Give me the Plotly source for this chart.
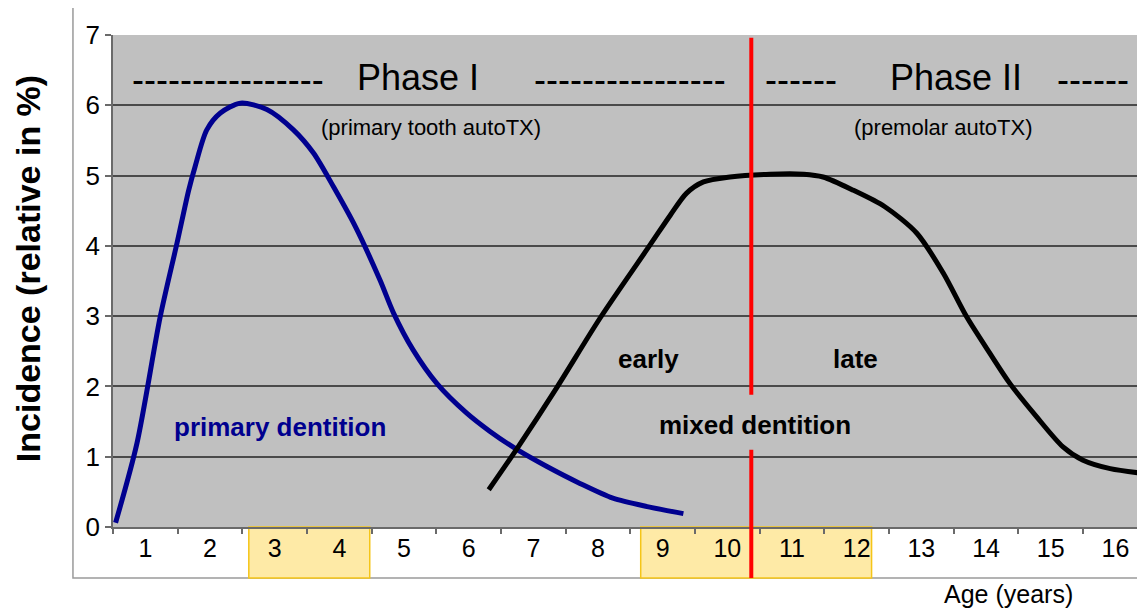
import plotly.graph_objects as go

# ---------------- data ----------------
age_ticks = list(range(1, 17))
age_labels = [str(a) for a in age_ticks]
y_ticks = list(range(0, 8))

primary_x = [0.54, 0.87, 1.23, 1.49, 1.67, 1.77, 1.95, 2.16, 2.47, 2.88, 3.29, 3.60, 3.91,
             4.25, 4.63, 4.84, 5.14, 5.51, 5.97, 6.33, 6.75, 7.21, 7.72, 8.23, 8.76, 9.32]
primary_y = [0.06, 1.19, 2.99, 4.04, 4.79, 5.13, 5.65, 5.89, 6.03, 5.94, 5.65, 5.32, 4.84,
             4.27, 3.51, 3.04, 2.52, 2.04, 1.62, 1.36, 1.10, 0.86, 0.62, 0.41, 0.29, 0.19]

premolar_x = [6.31, 6.75, 7.36, 8.03, 8.81, 9.12, 9.37, 9.63, 10.04, 10.66, 11.18, 11.48,
              11.95, 12.43, 12.93, 13.34, 13.70, 14.06, 14.37, 14.78, 15.19, 15.50, 15.92, 16.46]
premolar_y = [0.53, 1.12, 1.98, 2.97, 4.02, 4.44, 4.75, 4.91, 4.98, 5.02, 5.02, 4.98,
              4.79, 4.56, 4.18, 3.61, 2.99, 2.47, 2.04, 1.57, 1.14, 0.95, 0.83, 0.76]

highlight_ranges = [(2.6, 4.47), (8.66, 12.23)]
split_age = 10.37

FONT = "Liberation Sans, Arial, sans-serif"
X_MIN, X_MAX = 0.5, 16.458
Y_MIN, Y_MAX = 0, 7

fig = go.Figure()

fig.add_trace(go.Scatter(x=primary_x, y=primary_y, mode="lines",
                         line=dict(color="#00008f", width=5, shape="spline", smoothing=0.8),
                         hoverinfo="skip", showlegend=False))
fig.add_trace(go.Scatter(x=premolar_x, y=premolar_y, mode="lines",
                         line=dict(color="#000000", width=5, shape="spline", smoothing=0.8),
                         hoverinfo="skip", showlegend=False))
# invisible trace for boundary tick axis
fig.add_trace(go.Scatter(x=[X_MIN], y=[0], xaxis="x2", mode="markers",
                         marker=dict(opacity=0), hoverinfo="skip", showlegend=False))

def ypaper(v):
    return (v - Y_MIN) / (Y_MAX - Y_MIN)

def xpaper(v):
    return (v - X_MIN) / (X_MAX - X_MIN)

shapes = []
# outer white frame
shapes.append(dict(type="rect", xref="paper", yref="paper", x0=-0.0388, x1=1.05,
                   y0=-0.1037, y1=1.057, fillcolor="white",
                   line=dict(color="#9a9a9a", width=1.5), layer="below"))
# grey plot area
shapes.append(dict(type="rect", xref="paper", yref="paper", x0=0, x1=1, y0=0, y1=1,
                   fillcolor="#c0c0c0", line=dict(width=0), layer="below"))
# yellow highlighted age bands
for a, b in highlight_ranges:
    shapes.append(dict(type="rect", xref="paper", yref="paper", x0=xpaper(a), x1=xpaper(b),
                       y0=-0.1037, y1=0, fillcolor="#feeaa6",
                       line=dict(color="#f5c518", width=1.5), layer="below"))
# red split line (two segments around "mixed dentition")
shapes.append(dict(type="line", xref="paper", yref="paper", x0=xpaper(split_age), x1=xpaper(split_age),
                   y0=ypaper(1.88), y1=ypaper(6.96), line=dict(color="#ff0000", width=4)))
shapes.append(dict(type="line", xref="paper", yref="paper", x0=xpaper(split_age), x1=xpaper(split_age),
                   y0=-0.1037, y1=ypaper(1.10), line=dict(color="#ff0000", width=4)))

ann = []
def add_text(x, y, text, size, color="black", bold=False, xref="x", yref="y", angle=0):
    ann.append(dict(x=x, y=y, xref=xref, yref=yref, text=f"<b>{text}</b>" if bold else text,
                    showarrow=False, textangle=angle,
                    font=dict(family=FONT, size=size, color=color),
                    xanchor="center", yanchor="middle"))

add_text(2.285, 6.37, "----------------", 36)
add_text(5.22, 6.39, "Phase I", 36)
add_text(8.49, 6.37, "----------------", 36)
add_text(11.14, 6.37, "------", 36)
add_text(13.53, 6.39, "Phase II", 36)
add_text(15.66, 6.37, "------", 36)
add_text(5.41, 5.68, "(primary tooth autoTX)", 22)
add_text(13.34, 5.68, "(premolar autoTX)", 22)
add_text(8.78, 2.39, "early", 26, bold=True)
add_text(11.98, 2.39, "late", 26, bold=True)
add_text(10.43, 1.45, "mixed dentition", 26, bold=True)
add_text(3.09, 1.42, "primary dentition", 26, color="#00008f", bold=True)
add_text(-0.0824, 0.526, "Incidence (relative in %)", 34, bold=True, xref="paper", yref="paper", angle=-90)
add_text(0.868, -0.136, "Age (years)", 25, xref="paper", yref="paper")

fig.update_layout(
    width=1137, height=602,
    margin=dict(l=105, r=0, t=27, b=83),
    paper_bgcolor="white",
    plot_bgcolor="rgba(0,0,0,0)",
    shapes=shapes,
    annotations=ann,
    xaxis=dict(range=[X_MIN, X_MAX], tickvals=age_ticks, ticktext=age_labels,
               ticks="", showgrid=False, zeroline=False, showline=True,
               linecolor="#6a6a6a", linewidth=1.5,
               tickfont=dict(family=FONT, size=25, color="black"),
               ticklabelstandoff=-2),
    xaxis2=dict(range=[X_MIN, X_MAX], overlaying="x", side="bottom",
                tickvals=[v + 0.5 for v in [0] + age_ticks], showticklabels=False,
                ticks="outside", ticklen=6, tickcolor="#6a6a6a", tickwidth=1.5,
                showgrid=False, zeroline=False, showline=False),
    yaxis=dict(range=[Y_MIN, Y_MAX], tickvals=y_ticks, ticks="outside", ticklen=6,
               tickcolor="#6a6a6a", tickwidth=1.5,
               showgrid=True, gridcolor="#4a4a4a", gridwidth=1.5,
               zeroline=False, showline=True, linecolor="#6a6a6a", linewidth=1.5,
               tickfont=dict(family=FONT, size=26, color="black")),
)

fig.write_html("out.html")
